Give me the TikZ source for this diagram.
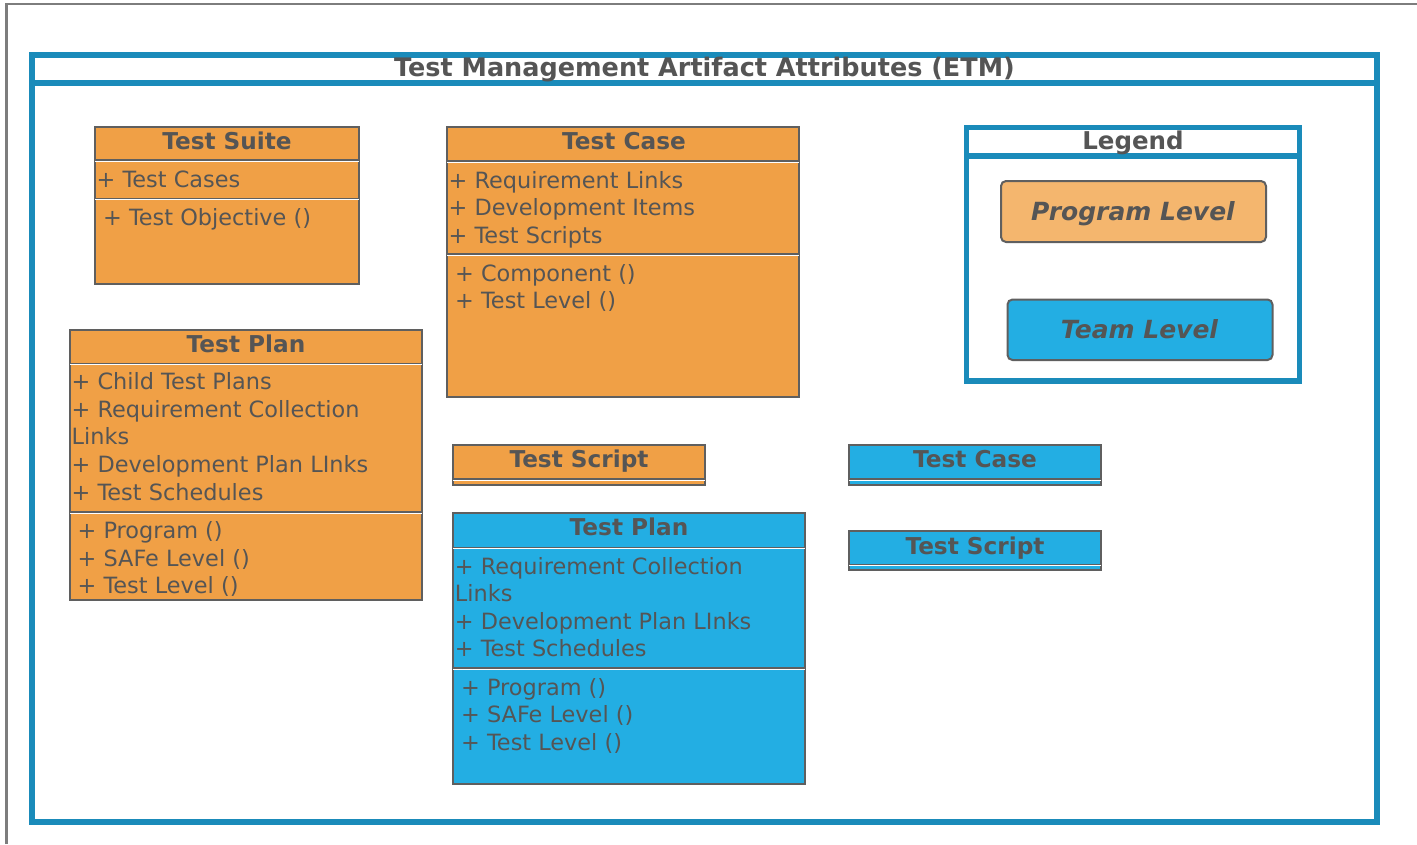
\documentclass[tikz,border=0pt]{standalone}
\usepackage{fontspec}
\setmainfont{DejaVu Sans}
\definecolor{frameblue}{RGB}{26,139,186}
\definecolor{progorange}{RGB}{240,160,70}
\definecolor{teamblue}{RGB}{35,174,227}
\definecolor{legorange}{RGB}{244,182,110}
\definecolor{txtgray}{RGB}{85,85,85}
\definecolor{edgegray}{RGB}{95,95,95}
\definecolor{outergray}{RGB}{125,125,125}
\tikzset{
  umlbox/.style={draw=edgegray, line width=2pt, rectangle, inner sep=0pt, outer sep=0pt, anchor=north west},
  sepline/.style={draw=edgegray, line width=1.5pt},
  sepwhite/.style={draw=white, line width=1pt},
  bluebox/.style={draw=frameblue, line width=6pt, rectangle, inner sep=0pt, outer sep=0pt, anchor=north west, fill=none},
  attr/.style={inner sep=0pt, anchor=base west, text=txtgray, font=\fontsize{22.4}{28}\selectfont},
  ctitle/.style={inner sep=0pt, anchor=base, text=txtgray, font=\bfseries\fontsize{23.2}{28}\selectfont},
  bigtitle/.style={inner sep=0pt, anchor=base, text=txtgray, font=\bfseries\fontsize{25.5}{30}\selectfont},
  legbox/.style={draw=edgegray, line width=2pt, rectangle, rounded corners=5pt, inner sep=0pt, outer sep=0pt, anchor=north west},
  legtext/.style={inner sep=0pt, anchor=base, text=txtgray, font=\bfseries\itshape\fontsize{25}{30}\selectfont},
}
\begin{document}
\begin{tikzpicture}[x=1pt,y=-1pt]
\useasboundingbox (0,0) rectangle (1417,844);
\fill[white] (0,0) rectangle (1417,844);
% outer gray frame
\draw[outergray, line width=2.2pt] (6.5,844) -- (6.5,3.8) -- (1417,3.8);

% main container
\node[bluebox, minimum width=1345pt, minimum height=767pt] (etm) at (32,54.5) {};
\draw[frameblue, line width=6pt] (32,83) -- (1377,83);
\node[bigtitle] (etmtitle) at (704.5,76) {Test Management Artifact Attributes (ETM)};

% Test Suite (orange)
\node[umlbox, fill=progorange, minimum width=264pt, minimum height=157pt] (suite) at (95,127) {};
\draw[sepline] (95,160) -- (359,160); \draw[sepwhite] (95,161.3) -- (359,161.3);
\draw[sepline] (95,198.5) -- (359,198.5); \draw[sepwhite] (95,199.8) -- (359,199.8);
\node[ctitle] (suiteT) at (227,149) {Test Suite};
\node[attr] (suiteA1) at (96.5,187) {+ Test Cases};
\node[attr] (suiteO1) at (103,225) {+ Test Objective ()};

% Test Case (orange)
\node[umlbox, fill=progorange, minimum width=352pt, minimum height=270pt] (caseO) at (447,127) {};
\draw[sepline] (447,161) -- (799,161); \draw[sepwhite] (447,162.3) -- (799,162.3);
\draw[sepline] (447,254) -- (799,254); \draw[sepwhite] (447,255.3) -- (799,255.3);
\node[ctitle] (caseOT) at (624,149) {Test Case};
\node[attr] (caseOA1) at (448.5,188) {+ Requirement Links};
\node[attr] (caseOA2) at (448.5,215.5) {+ Development Items};
\node[attr] (caseOA3) at (448.5,243) {+ Test Scripts};
\node[attr] (caseOO1) at (455,281) {+ Component ()};
\node[attr] (caseOO2) at (455,308.5) {+ Test Level ()};

% Test Plan (orange)
\node[umlbox, fill=progorange, minimum width=352pt, minimum height=270pt] (planO) at (70,330) {};
\draw[sepline] (70,363.3) -- (422,363.3); \draw[sepwhite] (70,364.6) -- (422,364.6);
\draw[sepline] (70,512) -- (422,512); \draw[sepwhite] (70,513.3) -- (422,513.3);
\node[ctitle] (planOT) at (246,352) {Test Plan};
\node[attr] (planOA1) at (71.5,389.5) {+ Child Test Plans};
\node[attr] (planOA2) at (71.5,417.5) {+ Requirement Collection};
\node[attr] (planOA3) at (71.5,444.5) {Links};
\node[attr] (planOA4) at (71.5,472.5) {+ Development Plan LInks};
\node[attr] (planOA5) at (71.5,500) {+ Test Schedules};
\node[attr] (planOO1) at (77.5,538) {+ Program ()};
\node[attr] (planOO2) at (77.5,566) {+ SAFe Level ()};
\node[attr] (planOO3) at (77.5,593.5) {+ Test Level ()};

% Test Script (orange)
\node[umlbox, fill=progorange, minimum width=252pt, minimum height=40pt] (scriptO) at (453,445) {};
\draw[sepline] (453,479) -- (705,479); \draw[sepwhite] (453,480.3) -- (705,480.3);
\node[ctitle] (scriptOT) at (579,467.5) {Test Script};

% Test Case (blue)
\node[umlbox, fill=teamblue, minimum width=252pt, minimum height=40pt] (caseB) at (849,445) {};
\draw[sepline] (849,479) -- (1101,479); \draw[sepwhite] (849,480.3) -- (1101,480.3);
\node[ctitle] (caseBT) at (975,467.5) {Test Case};

% Test Script (blue)
\node[umlbox, fill=teamblue, minimum width=252pt, minimum height=39pt] (scriptB) at (849,531) {};
\draw[sepline] (849,564.5) -- (1101,564.5); \draw[sepwhite] (849,565.8) -- (1101,565.8);
\node[ctitle] (scriptBT) at (975,554) {Test Script};

% Test Plan (blue)
\node[umlbox, fill=teamblue, minimum width=352pt, minimum height=271pt] (planB) at (453,513) {};
\draw[sepline] (453,547.3) -- (805,547.3); \draw[sepwhite] (453,548.6) -- (805,548.6);
\draw[sepline] (453,668) -- (805,668); \draw[sepwhite] (453,669.3) -- (805,669.3);
\node[ctitle] (planBT) at (629,535) {Test Plan};
\node[attr] (planBA1) at (454.7,574) {+ Requirement Collection};
\node[attr] (planBA2) at (454.7,601.5) {Links};
\node[attr] (planBA3) at (454.7,629) {+ Development Plan LInks};
\node[attr] (planBA4) at (454.7,656.5) {+ Test Schedules};
\node[attr] (planBO1) at (461,695) {+ Program ()};
\node[attr] (planBO2) at (461,722.5) {+ SAFe Level ()};
\node[attr] (planBO3) at (461,750) {+ Test Level ()};

% Legend
\node[bluebox, line width=5.5pt, minimum width=333pt, minimum height=253.7pt] (legend) at (966.7,127.3) {};
\draw[frameblue, line width=5.5pt] (966.7,156) -- (1299.7,156);
\node[ctitle, font=\bfseries\fontsize{24.5}{30}\selectfont] (legendT) at (1133,149.5) {Legend};
\node[legbox, fill=legorange, minimum width=265pt, minimum height=61pt] (progbox) at (1001,181) {};
\node[legtext] (progT) at (1133,220) {Program Level};
\node[legbox, fill=teamblue, minimum width=265pt, minimum height=60.5pt] (teambox) at (1007.5,299.5) {};
\node[legtext] (teamT) at (1139.5,338) {Team Level};
\end{tikzpicture}
\end{document}
